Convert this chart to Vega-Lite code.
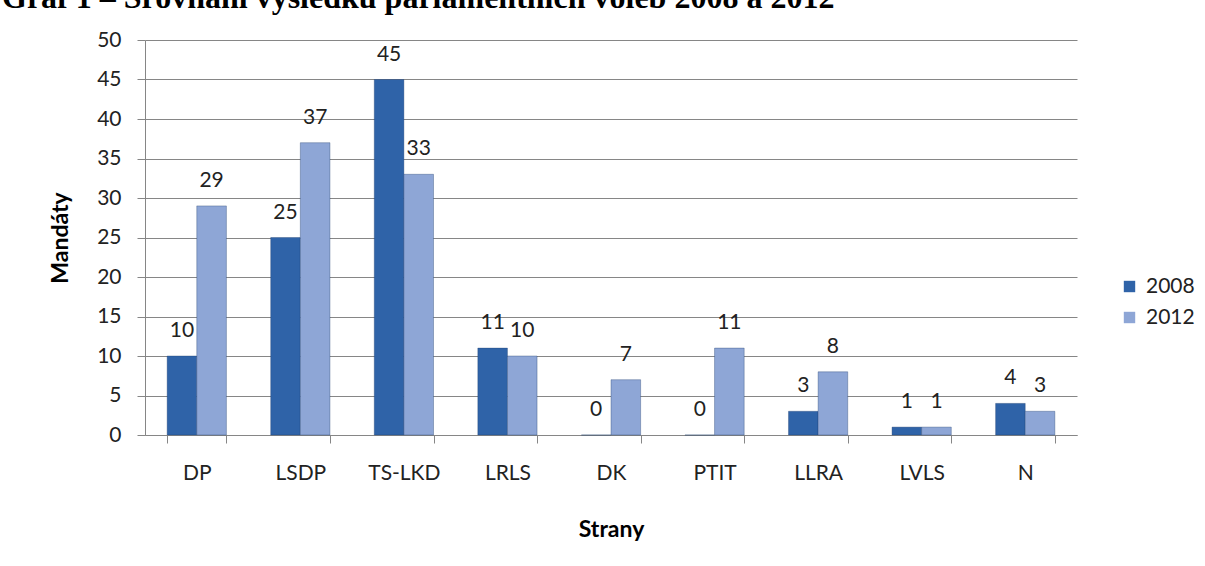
{
  "$schema": "https://vega.github.io/schema/vega-lite/v6.json",
  "width": 932,
  "height": 395,
  "autosize": {"type": "none"},
  "padding": {"left": 145, "top": 40, "right": 128, "bottom": 131},
  "background": "white",
  "title": {
    "text": "Graf 1 – Srovnání výsledků parlamentních voleb 2008 a 2012",
    "anchor": "start",
    "frame": "group",
    "orient": "top",
    "font": "Liberation Serif",
    "fontSize": 32,
    "fontWeight": "bold",
    "color": "black",
    "baseline": "alphabetic",
    "offset": 0,
    "dx": -143,
    "dy": 11
  },
  "data": {
    "values": [
      {"strana": "DP", "rok": "2008", "mandaty": 10},
      {"strana": "DP", "rok": "2012", "mandaty": 29},
      {"strana": "LSDP", "rok": "2008", "mandaty": 25},
      {"strana": "LSDP", "rok": "2012", "mandaty": 37},
      {"strana": "TS-LKD", "rok": "2008", "mandaty": 45},
      {"strana": "TS-LKD", "rok": "2012", "mandaty": 33},
      {"strana": "LRLS", "rok": "2008", "mandaty": 11},
      {"strana": "LRLS", "rok": "2012", "mandaty": 10},
      {"strana": "DK", "rok": "2008", "mandaty": 0},
      {"strana": "DK", "rok": "2012", "mandaty": 7},
      {"strana": "PTIT", "rok": "2008", "mandaty": 0},
      {"strana": "PTIT", "rok": "2012", "mandaty": 11},
      {"strana": "LLRA", "rok": "2008", "mandaty": 3},
      {"strana": "LLRA", "rok": "2012", "mandaty": 8},
      {"strana": "LVLS", "rok": "2008", "mandaty": 1},
      {"strana": "LVLS", "rok": "2012", "mandaty": 1},
      {"strana": "N", "rok": "2008", "mandaty": 4},
      {"strana": "N", "rok": "2012", "mandaty": 3}
    ]
  },
  "encoding": {
    "x": {
      "field": "strana",
      "type": "nominal",
      "sort": null,
      "scale": {"paddingInner": 0.428, "paddingOuter": 0.214},
      "axis": {
        "title": "Strany",
        "labelAngle": 0,
        "tickBand": "extent",
        "tickSize": 8,
        "tickColor": "#868686",
        "domainColor": "#868686",
        "labelPadding": 19,
        "titlePadding": 35,
        "labelFont": "Lato",
        "labelFontSize": 21,
        "labelColor": "#222222",
        "titleFont": "Lato",
        "titleFontSize": 23,
        "titleFontWeight": "bold",
        "titleColor": "black"
      }
    },
    "xOffset": {"field": "rok", "type": "nominal", "scale": {"paddingInner": 0, "paddingOuter": 0}},
    "y": {
      "field": "mandaty",
      "type": "quantitative",
      "scale": {"domain": [0, 50]},
      "axis": {
        "title": "Mandáty",
        "values": [0, 5, 10, 15, 20, 25, 30, 35, 40, 45, 50],
        "tickSize": 8,
        "tickColor": "#868686",
        "domainColor": "#868686",
        "gridColor": "#868686",
        "labelPadding": 16,
        "titlePadding": 24,
        "labelFont": "Lato",
        "labelFontSize": 21,
        "labelColor": "#222222",
        "titleFont": "Lato",
        "titleFontSize": 23,
        "titleFontWeight": "bold",
        "titleColor": "black"
      }
    }
  },
  "layer": [
    {
      "mark": {"type": "bar", "stroke": "#1f3f6e", "strokeWidth": 0.6, "strokeOpacity": 0.6},
      "encoding": {
        "color": {
          "field": "rok",
          "type": "nominal",
          "scale": {"domain": ["2008", "2012"], "range": ["#2f63a8", "#8ea6d6"]},
          "legend": {
            "title": null,
            "orient": "none",
            "legendX": 974,
            "legendY": 236,
            "symbolType": "square",
            "symbolSize": 130,
            "symbolStrokeWidth": 0,
            "rowPadding": 9,
            "labelFont": "Lato",
            "labelFontSize": 21,
            "labelColor": "#222222",
            "labelOffset": 6
          }
        }
      }
    },
    {
      "mark": {"type": "text", "baseline": "alphabetic", "dy": -19, "font": "Lato", "fontSize": 21, "color": "#222222"},
      "encoding": {"text": {"field": "mandaty", "type": "quantitative"}}
    }
  ],
  "config": {
    "view": {"stroke": null},
    "axis": {"gridWidth": 1}
  }
}
